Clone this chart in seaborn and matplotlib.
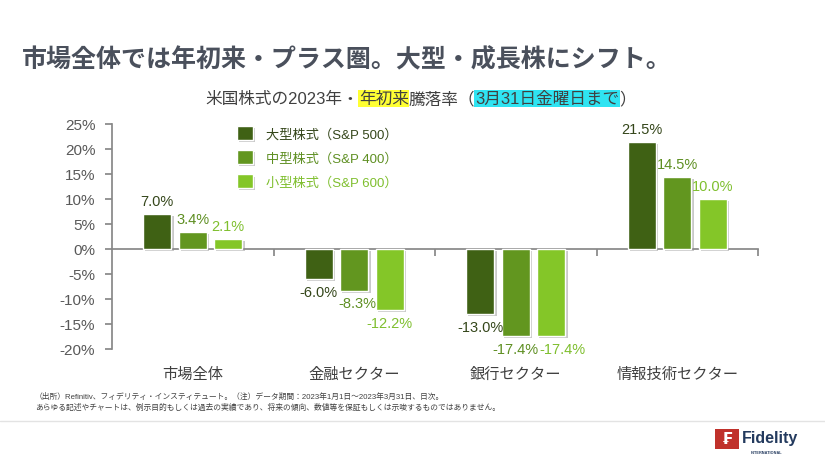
import matplotlib.pyplot as plt
import matplotlib.patheffects as pe
from matplotlib.patches import Rectangle
from matplotlib.lines import Line2D
import pandas as pd
import seaborn as sns

# data (%)
categories = ['市場全体', '金融セクター', '銀行セクター', '情報技術セクター']
series = ['大型株式（S&P 500）', '中型株式（S&P 400）', '小型株式（S&P 600）']
large_cap = [7.0, -6.0, -13.0, 21.5]
mid_cap = [3.4, -8.3, -17.4, 14.5]
small_cap = [2.1, -12.2, -17.4, 10.0]
yticks = [-20, -15, -10, -5, 0, 5, 10, 15, 20, 25]

title = '市場全体では年初来・プラス圏。大型・成長株にシフト。'
subtitle_parts = ['米国株式の2023年・', '年初来', '騰落率（', '3月31日金曜日まで', '）']
subtitle_bg = [None, '#FFFF33', None, '#2FE4F2', None]
footnotes = [
    '（出所）Refinitiv、フィデリティ・インスティテュート。（注）データ期間：2023年1月1日～2023年3月31日、日次。',
    'あらゆる記述やチャートは、例示目的もしくは過去の実績であり、将来の傾向、数値等を保証もしくは示唆するものではありません。',
]

colors = ['#3F6114', '#62961F', '#84C628']
label_colors = ['#34461A', '#5E8F22', '#7FBF2E']

df = pd.DataFrame({
    'category': categories * 3,
    'series': [s for s in series for _ in categories],
    'value': large_cap + mid_cap + small_cap,
})

sns.set_theme(style='white')
plt.rcParams['font.family'] = ['Liberation Sans', 'Noto Sans CJK JP']

fig = plt.figure(figsize=(8.25, 4.64), dpi=100)
ax = fig.add_axes([112 / 825, 1 - 350 / 464, 646 / 825, 225 / 464])

sns.barplot(data=df, x='category', y='value', hue='series', order=categories,
            hue_order=series, palette=colors, saturation=1, width=0.66, gap=0.2, ax=ax)

for bar in ax.patches:
    bar.set_path_effects([pe.SimplePatchShadow(offset=(1.5, -1.5), shadow_rgbFace='#888888', alpha=0.45),
                          pe.Normal()])

labels_by_series = []
for cont, c in zip(ax.containers, label_colors):
    labels_by_series.append(ax.bar_label(cont, fmt='%.1f%%', color=c, fontsize=10.5, padding=4))

ax.set_ylim(yticks[0], yticks[-1])
ax.set_xlim(-0.5, len(categories) - 0.5)
ax.set_yticks(yticks, [f'{t}%' for t in yticks])
ax.set_xlabel('')
ax.set_ylabel('')
ax.tick_params(axis='y', left=True, direction='out', length=5, color='#888888',
               labelsize=11, labelcolor='#595959', pad=7)
ax.tick_params(axis='x', bottom=False, labelsize=11, labelcolor='#404040', pad=7)
for side in ['top', 'right', 'bottom']:
    ax.spines[side].set_visible(False)
ax.spines['left'].set_color('#888888')

# zero line with group separators
lo, hi = ax.get_ylim()
secax = ax.secondary_xaxis(-lo / (hi - lo))
secax.set_alignment('bottom')
secax.set_xticks([i + 0.5 for i in range(len(categories))])
secax.tick_params(axis='x', direction='out', length=5, color='#888888', labelbottom=False)
secax.spines['bottom'].set_color('#888888')

handles, labels = ax.get_legend_handles_labels()
leg = ax.legend(handles, labels, loc='upper left', bbox_to_anchor=(0.193, 0.99), frameon=False,
                labelcolor=label_colors, fontsize=9.5, handlelength=1.2, handleheight=1.2,
                handletextpad=1.0, labelspacing=0.75, borderaxespad=0, borderpad=0)
for h in leg.legend_handles:
    h.set_path_effects([pe.SimplePatchShadow(offset=(1.5, -1.5), shadow_rgbFace='#888888', alpha=0.45),
                        pe.Normal()])

fig.text(22 / 825, 1 - 60 / 464, title, fontsize=18, fontweight='bold', color='#4A505C',
         va='center', ha='left', family=['Noto Sans CJK JP'])

t = fig.text(205 / 825, 1 - 107 / 464, subtitle_parts[0], fontsize=12, color='#404040',
             va='bottom', ha='left')
for part, bg in zip(subtitle_parts[1:], subtitle_bg[1:]):
    box = dict(boxstyle='square,pad=0.05', fc=bg, ec='none') if bg else None
    t = ax.annotate(part, xy=(1, 0), xycoords=t, va='bottom', ha='left',
                    fontsize=12, color='#404040', bbox=box)

for i, line in enumerate(footnotes):
    fig.text(35 / 825, 1 - (397 + 11 * i) / 464, line, fontsize=5.6, color='#404040',
             va='center', ha='left')

fig.add_artist(Line2D([0, 1], [1 - 422 / 464] * 2, transform=fig.transFigure,
                      color='#E3E3E3', lw=1))

# logo
fig.add_artist(Rectangle((715 / 825, 1 - 450 / 464), 24 / 825, 20 / 464,
                         transform=fig.transFigure, fc='#C0312B', ec='none'))
fig.text(727 / 825, 1 - 440 / 464, '₣', fontsize=11, fontweight='bold', color='white',
         ha='center', va='center', family=['DejaVu Sans'])
fig.text(742 / 825, 1 - 439 / 464, 'Fidelity', fontsize=11.5, fontweight='bold', color='#233A5E',
         ha='left', va='center')
fig.text(767 / 825, 1 - 453 / 464, 'INTERNATIONAL', fontsize=2.8, fontweight='bold',
         color='#233A5E', ha='center', va='center')

# nudge value labels to the right when they collide with the neighbour on the left
fig.canvas.draw()
renderer = fig.canvas.get_renderer()
for k in range(1, len(labels_by_series)):
    for prev, cur in zip(labels_by_series[k - 1], labels_by_series[k]):
        a = prev.get_window_extent(renderer)
        b = cur.get_window_extent(renderer)
        if a.overlaps(b):
            dx = a.x1 - b.x0 + 1
            cur.set_x(cur.get_position()[0] + dx * 72 / fig.dpi)

fig.savefig('out.png', dpi=100)
